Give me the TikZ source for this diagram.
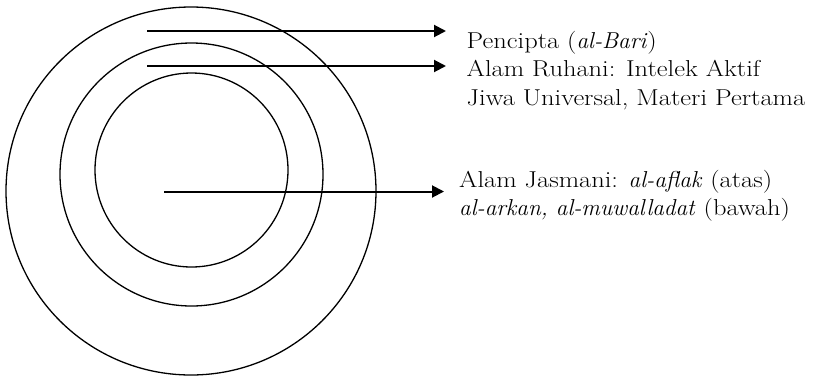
\documentclass[tikz,border=0pt]{standalone}
\usepackage{fontspec}
\setmainfont{Latin Modern Roman}[FakeStretch=1.15,ItalicFeatures={FakeStretch=1.01}]
\usetikzlibrary{arrows.meta}
\begin{document}
\begin{tikzpicture}[x=1pt,y=-1pt,
  ring/.style={line width=1.3pt},
  pointer/.style={line width=2pt,-{Triangle[length=12pt,width=12pt]}},
  label/.style={anchor=base west,inner sep=0pt,font=\fontsize{23}{27}\selectfont}]
\useasboundingbox (0,0) rectangle (820,376);
\draw[ring] (191,191) ellipse (185 and 184);
\draw[ring] (191.5,174.5) circle (131.5);
\draw[ring] (191.5,170) ellipse (96.5 and 97);
\node[label] (l1) at (466.5,48) {Pencipta (\textit{al-Bari})};
\node[label] (l2) at (466.5,76.5) {Alam Ruhani: Intelek Aktif};
\node[label] (l3) at (466.5,105) {Jiwa Universal, Materi Pertama};
\node[label] (l4) at (459,187) {Alam Jasmani: \textit{al-aflak} (atas)};
\node[label] (l5) at (459,215.5) {\textit{al-arkan, al-muwalladat} (bawah)};
\coordinate (s1) at (147,31);
\coordinate (e1) at (446,31);
\coordinate (s2) at (147,66);
\coordinate (e2) at (446,66);
\coordinate (s3) at (164,191.5);
\coordinate (e3) at (444,191.5);
\draw[pointer] (s1) -- (e1);
\draw[pointer] (s2) -- (e2);
\draw[pointer] (s3) -- (e3);
\end{tikzpicture}
\end{document}
